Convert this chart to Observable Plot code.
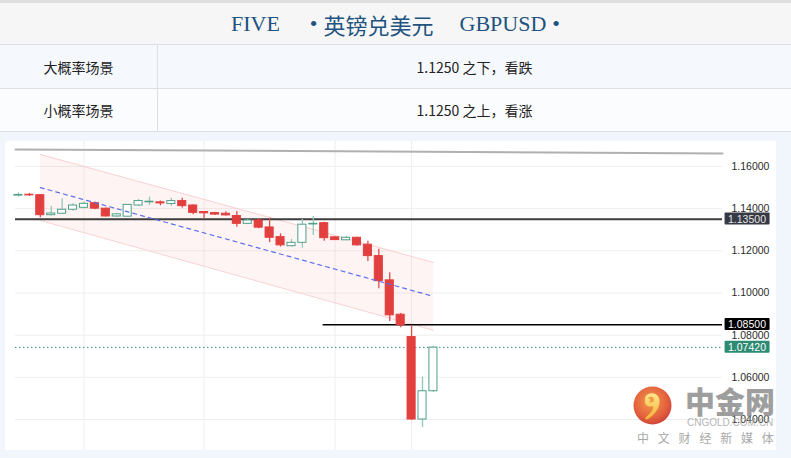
<!DOCTYPE html>
<html><head><meta charset="utf-8">
<script src="https://cdn.jsdelivr.net/npm/d3@7"></script>
<script src="https://cdn.jsdelivr.net/npm/@observablehq/plot@0.6"></script>
<style>
html,body{margin:0;padding:0;background:#f1f6fc}
*{box-sizing:border-box}
#page{position:relative;width:791px;height:458px;overflow:hidden;background:#f1f6fc;font-family:"Noto Sans CJK SC",sans-serif}
.abs{position:absolute}
.row{position:absolute;left:0;width:791px;border-bottom:1px solid #dcdfe4;display:flex;align-items:center}
.cellL{width:158px;height:100%;border-right:1px solid #dcdfe4;display:flex;align-items:center;justify-content:center;font-size:14px;color:#222}
.cellR{flex:1;height:100%;display:flex;align-items:center;justify-content:center;font-size:14px;color:#222}
#title{font-family:"Liberation Serif","Noto Sans CJK SC",serif;font-size:22px;color:#22527f;white-space:pre;display:flex;align-items:center;justify-content:center}
#title span{display:inline-block}
#chart{position:absolute;left:0;top:132px}
</style></head><body>
<div id="page">
  <div class="abs" style="left:0;top:0;width:791px;height:3px;background:#dedede"></div>
  <div class="row" id="title" style="top:3px;height:42px;background:#f6f6f6"></div>
  <div class="row" id="row1" style="top:45px;height:44px;background:#f5f9fe"><div class="cellL"></div><div class="cellR"></div></div>
  <div class="row" id="row2" style="top:89px;height:43px;background:#fbfcfe"><div class="cellL"></div><div class="cellR"></div></div>
  <div class="abs" style="left:5px;top:141px;width:771px;height:309px;background:#ffffff"></div>
  <div id="chart"></div>
  <div class="abs" id="wm" style="left:620px;top:380px;width:165px;height:70px;opacity:0.85">
    <svg width="40" height="40" style="position:absolute;left:13px;top:6px" viewBox="0 0 40 40">
      <defs>
        <radialGradient id="lg" cx="45%" cy="40%" r="60%">
          <stop offset="0%" stop-color="#f28a2a"/><stop offset="70%" stop-color="#e0481d"/><stop offset="100%" stop-color="#c9261a"/>
        </radialGradient>
        <linearGradient id="yg" x1="0" y1="0" x2="0" y2="1">
          <stop offset="0%" stop-color="#ffe27a"/><stop offset="100%" stop-color="#f3a712"/>
        </linearGradient>
      </defs>
      <circle cx="19.5" cy="19.5" r="19" fill="url(#lg)"/>
      <path d="M12 13 C12 6,24 5,26 12 C28 19,24 27,15 33 C13 34,11 33,13 31 C18 27,21 23,20 20 C14 22,11 18,12 13 Z" fill="url(#yg)"/>
      <path d="M15 13 C15 10,21 10,21 14 C21 16,18 17,16 16 C17 15,18 14,17 13 C16 12,15 13,15 13 Z" fill="#f08a22"/>
    </svg>
    <div class="abs" id="wmBig" style="left:65px;top:2px;font-size:30px;font-weight:900;color:#8e8e8e;letter-spacing:0px;line-height:36px"></div>
    <div class="abs" id="wmUrl" style="left:67px;top:37px;font-family:'Liberation Sans',sans-serif;font-size:10px;color:#a8a8a8;letter-spacing:0px;line-height:11px"></div>
    <div class="abs" id="wmSub" style="left:17px;top:50px;font-size:12px;color:#9a9a9a;letter-spacing:8.8px;line-height:16px;white-space:nowrap"></div>
  </div>
</div>
<script>
// ---- text content ----
const titleParts = ["FIVE", "•", "英镑兑美元", "GBPUSD", "•"];
const scenarioNames = ["大概率场景", "小概率场景"];
const scenarioTexts = ["1.1250 之下，看跌", "1.1250 之上，看涨"];
const watermark = ["中金网", "CNGOLD.COM.CN", "中文财经新媒体"];

// ---- candle data (GBPUSD) ----
const open  = [1.1462,1.1466,1.1464,1.1369,1.1376,1.1395,1.1404,1.1426,1.1400,1.1363,1.1362,1.1415,1.1430,1.1430,1.1422,1.1436,1.1415,1.1384,1.1379,1.1376,1.1365,1.1328,1.1344,1.1311,1.1265,1.1222,1.1238,1.1325,1.1331,1.1264,1.1250,1.1262,1.1229,1.1175,1.1060,1.0897,1.0791,1.0400,1.0534];
const high  = [1.1475,1.1472,1.1467,1.1412,1.1447,1.1423,1.1432,1.1432,1.1403,1.1377,1.1420,1.1444,1.1455,1.1436,1.1450,1.1450,1.1418,1.1386,1.1383,1.1385,1.1387,1.1350,1.1352,1.1355,1.1281,1.1254,1.1349,1.1363,1.1336,1.1266,1.1268,1.1265,1.1245,1.1207,1.1096,1.0903,1.0845,1.0601,1.0747];
const low   = [1.1455,1.1458,1.1357,1.1365,1.1372,1.1388,1.1400,1.1395,1.1360,1.1358,1.1360,1.1410,1.1415,1.1414,1.1412,1.1403,1.1371,1.1352,1.1368,1.1365,1.1312,1.1326,1.1305,1.1239,1.1218,1.1218,1.1213,1.1273,1.1245,1.1249,1.1248,1.1222,1.1150,1.1020,1.0865,1.0835,1.0396,1.0362,1.0528];
const close = [1.1465,1.1463,1.1369,1.1377,1.1395,1.1415,1.1423,1.1400,1.1363,1.1373,1.1418,1.1436,1.1433,1.1425,1.1436,1.1412,1.1380,1.1378,1.1372,1.1368,1.1328,1.1344,1.1310,1.1262,1.1226,1.1238,1.1324,1.1328,1.1260,1.1251,1.1262,1.1226,1.1175,1.1056,1.0894,1.0846,1.0400,1.0534,1.0741];

// ---- annotations ----
const yTicks = [1.04, 1.06, 1.08, 1.10, 1.12, 1.14, 1.16];
const xGridBars = [6, 17, 29, 36];
const xDomain = [-0.27, 64.47];
const channelBars = [2, 38];
const channelHigh = [1.1657, 1.1145];
const channelLow  = [1.1344, 1.0823];
const channelMid  = [1.1500, 1.0984];
const topLineBars = [-0.27, 64.47];
const topLineVals = [1.1681, 1.1662];
const resistance = 1.1350;
const support = 1.0850;
const supportStartBar = 27.9;
const lastPrice = 1.0742;
const tagValues = [1.1350, 1.0850, 1.0742];
const tagBg = ["#363a45", "#000000", "#2e8b73"];
const tagFg = ["#e6e6e6", "#ffffff", "#ffffff"];

// ---- fill text ----
const titleEl = document.getElementById("title");
const titleGaps = [["0", "30px"], ["0", "6px"], ["0", "26px"], ["0", "6px"], ["0", "0"]];
titleParts.forEach((p, k) => {
  const s = document.createElement("span");
  s.textContent = p;
  s.style.marginLeft = titleGaps[k][0];
  s.style.marginRight = titleGaps[k][1];
  titleEl.appendChild(s);
});
document.querySelector("#row1 .cellL").textContent = scenarioNames[0];
document.querySelector("#row1 .cellR").textContent = scenarioTexts[0];
document.querySelector("#row2 .cellL").textContent = scenarioNames[1];
document.querySelector("#row2 .cellR").textContent = scenarioTexts[1];
document.getElementById("wmBig").textContent = watermark[0];
document.getElementById("wmUrl").textContent = watermark[1];
document.getElementById("wmSub").textContent = watermark[2];

const candles = open.map((o, i) => ({i, o, h: high[i], l: low[i], c: close[i], up: close[i] >= o}));
const channel = channelBars.map((b, k) => ({i: b, hi: channelHigh[k], lo: channelLow[k], mid: channelMid[k]}));
const topLine = topLineBars.map((b, k) => ({i: b, v: topLineVals[k]}));
const tags = tagValues.map((v, k) => ({v, bg: tagBg[k], fg: tagFg[k]}));

const W = 791, H = 326;
const plot = Plot.plot({
  width: W, height: H,
  marginLeft: 15, marginRight: 69, marginTop: 9, marginBottom: 8,
  style: {background: "transparent", color: "#2a2a2a", fontFamily: "'Liberation Sans', Arial, sans-serif", fontSize: "10.5px"},
  x: {type: "linear", domain: xDomain, range: [15, 722], axis: null},
  y: {domain: [1.04, 1.16], range: [287, 34], axis: "right", ticks: yTicks, tickFormat: d3.format(".5f"), tickSize: 0, tickPadding: 9, label: null},
  marks: [
    Plot.ruleY(yTicks, {stroke: "#eeeeee", strokeWidth: 1}),
    Plot.ruleX(xGridBars, {stroke: "#eeeeee", strokeWidth: 1}),
    Plot.areaY(channel, {x: "i", y1: "lo", y2: "hi", fill: "#ff9a9a", fillOpacity: 0.11}),
    Plot.line(channel, {x: "i", y: "hi", stroke: "#f8d2d2", strokeWidth: 1}),
    Plot.line(channel, {x: "i", y: "lo", stroke: "#f8d2d2", strokeWidth: 1}),
    Plot.line(topLine, {x: "i", y: "v", stroke: "#b0b0b0", strokeWidth: 2}),
    Plot.ruleY([resistance], {stroke: "#3d3d3d", strokeWidth: 2}),
    Plot.ruleY([{v: support, from: supportStartBar}], {y: "v", x1: "from", x2: () => xDomain[1], stroke: "#000", strokeWidth: 1.5}),
    Plot.ruleY([lastPrice], {stroke: "#3a8f78", strokeWidth: 1, strokeDasharray: "1.5,2.5"}),
    Plot.ruleX(candles, {x: "i", y1: "l", y2: "h", stroke: d => d.up ? "#8fc8b7" : "#e24a4a", strokeWidth: 1.3}),
    Plot.rect(candles, {x1: d => d.i - 0.37, x2: d => d.i + 0.37, y1: "o", y2: "c",
      fill: d => d.up ? "#ffffff" : "#e23f3f", stroke: d => d.up ? "#4f9f88" : "#e23f3f", strokeWidth: 1}),
    Plot.line(channel, {x: "i", y: "mid", stroke: "#5b70ee", strokeWidth: 1.2, strokeDasharray: "4,4"}),
    Plot.text(tags, {y: "v", text: d => d.v.toFixed(5), frameAnchor: "right", dx: 24.5, textAnchor: "middle", fill: "fg", fontSize: 10.5})
  ]
});
document.getElementById("chart").appendChild(plot);

// price tag boxes behind the tag texts
const tagTexts = plot.querySelectorAll('g[aria-label="text"] text');
tagTexts.forEach((t, k) => {
  const bb = t.getBBox();
  const r = document.createElementNS("http://www.w3.org/2000/svg", "rect");
  const cx = bb.x + bb.width / 2, cy = bb.y + bb.height / 2;
  r.setAttribute("x", cx - 22.5);
  r.setAttribute("y", cy - 6);
  r.setAttribute("width", 45);
  r.setAttribute("height", 12);
  r.setAttribute("rx", 1);
  r.setAttribute("fill", tags[k].bg);
  if (t.getAttribute("transform")) r.setAttribute("transform", t.getAttribute("transform"));
  t.parentNode.insertBefore(r, t);
});
</script>
</body></html>
